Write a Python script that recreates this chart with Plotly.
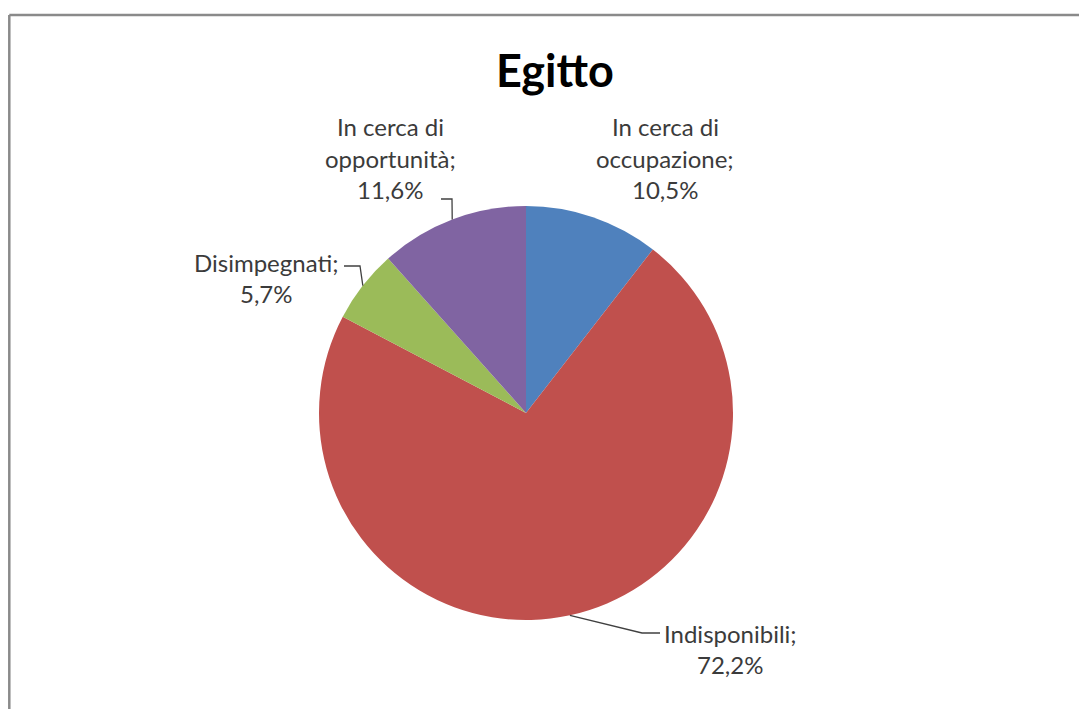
import math
import plotly.graph_objects as go

# ---- data ----
categories = ["In cerca di occupazione", "Indisponibili", "Disimpegnati", "In cerca di opportunità"]
values = [10.5, 72.2, 5.7, 11.6]
value_labels = ["10,5%", "72,2%", "5,7%", "11,6%"]
label_lines = [["In cerca di", "occupazione;"], ["Indisponibili;"], ["Disimpegnati;"], ["In cerca di", "opportunità;"]]
colors = ["#4F81BD", "#C0504D", "#9BBB59", "#8064A2"]
title_text = "Egitto"

W, H = 1087, 709
OFF = 8  # page body margin
CX, CY, R = 526, 413, 207


def px(x, y):
    return (x - OFF) / W, 1 - (y - OFF) / H


fig = go.Figure()
d0x, d0y = px(CX - R, CY + R)
d1x, d1y = px(CX + R, CY - R)
fig.add_trace(go.Pie(
    labels=categories, values=values, sort=False, direction="clockwise", rotation=0,
    marker=dict(colors=colors, line=dict(width=0)),
    textinfo="none", hoverinfo="label+percent", showlegend=False,
    domain=dict(x=[d0x, d1x], y=[d0y, d1y]),
))

label_pos = [(665, 127), (730, 633), (266, 262), (390, 127)]
LS = 31
FONT = "Lato, 'Open Sans', sans-serif"
TXT = "#3b3b3b"
annotations = []
for i, lines in enumerate(label_lines):
    all_lines = lines + [value_labels[i]]
    x0, y0 = label_pos[i]
    for k, t in enumerate(all_lines):
        xp, yp = px(x0, y0 + k * LS)
        annotations.append(dict(x=xp, y=yp, xref="paper", yref="paper", text=t,
                                showarrow=False, xanchor="center", yanchor="middle",
                                font=dict(family=FONT, size=24, color=TXT)))

tx, ty = px(555, 70)
annotations.append(dict(x=tx, y=ty, xref="paper", yref="paper", text="<b>" + title_text + "</b>",
                        showarrow=False, xanchor="center", yanchor="middle",
                        font=dict(family=FONT, size=45, color="#000000")))

total = sum(values)
cum = 0
mids = []
for v in values:
    a = (cum + v / 2) / total * 2 * math.pi
    mids.append((CX + R * math.sin(a), CY - R * math.cos(a)))
    cum += v

shapes = []
leader_elbows = {
    1: [(642, 633), (660, 633)],
    2: [(360, 266), (344, 266)],
    3: [(452, 199), (441, 199)],
}
for i, pts in leader_elbows.items():
    seq = [mids[i]] + pts
    path = ""
    for j, (x, y) in enumerate(seq):
        xp, yp = px(x, y)
        path += ("M" if j == 0 else "L") + f"{xp},{yp} "
    shapes.append(dict(type="path", path=path.strip(), xref="paper", yref="paper",
                       line=dict(color="#404040", width=1.3)))

fx0, fy0 = px(9.3, 15)
shapes.append(dict(type="line", xref="paper", yref="paper", x0=fx0, y0=fy0, x1=1.0, y1=fy0,
                   line=dict(color="#8a8a8a", width=2.5)))
shapes.append(dict(type="line", xref="paper", yref="paper", x0=fx0, y0=fy0, x1=fx0, y1=0.0,
                   line=dict(color="#8a8a8a", width=2.5)))

fig.update_layout(
    width=W, height=H, margin=dict(l=0, r=0, t=0, b=0),
    paper_bgcolor="white", plot_bgcolor="white",
    annotations=annotations, shapes=shapes,
)
fig.write_html("out.html")
